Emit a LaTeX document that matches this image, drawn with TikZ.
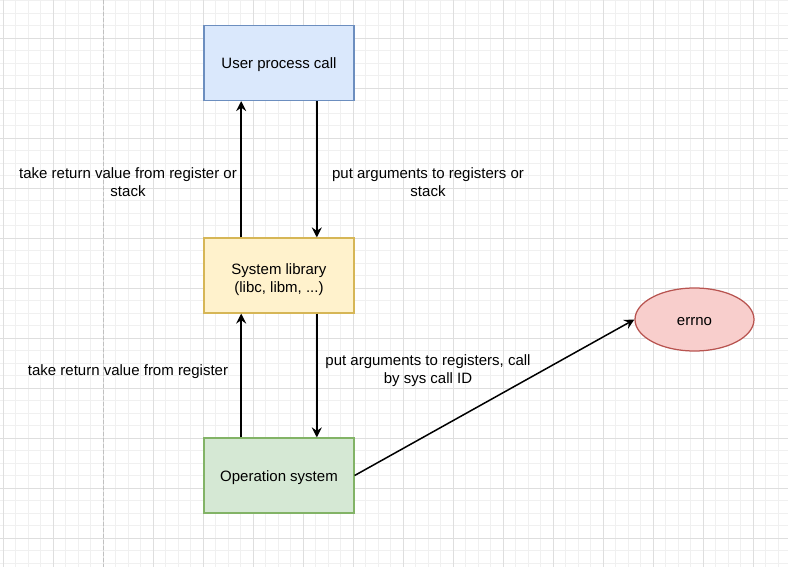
\documentclass[tikz,border=0pt]{standalone}
\usepackage{fontspec}
\setmainfont{Liberation Sans}
\usetikzlibrary{arrows.meta,shapes.geometric,calc}
\definecolor{gridminor}{HTML}{F0F0F0}
\definecolor{gridmajor}{HTML}{DEDEDE}
\definecolor{dashcol}{HTML}{C0C0C0}
\definecolor{bluefill}{HTML}{DAE8FC}\definecolor{bluedraw}{HTML}{6C8EBF}
\definecolor{yellowfill}{HTML}{FFF2CC}\definecolor{yellowdraw}{HTML}{D6B656}
\definecolor{greenfill}{HTML}{D5E8D4}\definecolor{greendraw}{HTML}{82B366}
\definecolor{redfill}{HTML}{F8CECC}\definecolor{reddraw}{HTML}{B85450}
\tikzset{
  txt/.style={font=\fontsize{15}{18}\selectfont},
  oneline/.style={text height=13pt, text depth=2pt},
  boxnode/.style={txt, rectangle, minimum width=150pt, minimum height=75pt, line width=1.25pt, inner sep=0pt},
  lbl/.style={txt, align=center, inner sep=0pt},
  arr/.style={line width=1.5pt, -{Stealth[length=10pt, width=10pt, inset=3.5pt]}},
}
\begin{document}
\begin{tikzpicture}[x=1pt, y=-1pt]
\useasboundingbox (0,0) rectangle (788,567);
\fill[white] (0,0) rectangle (788,567);
% grid
\foreach \i in {0,...,63} {
  \pgfmathsetmacro\xx{3.3+12.5*\i}
  \draw[gridminor, line width=1pt] (\xx,0) -- (\xx,567);
}
\foreach \i in {0,...,45} {
  \pgfmathsetmacro\yy{0.8+12.5*\i}
  \draw[gridminor, line width=1pt] (0,\yy) -- (788,\yy);
}
\foreach \i in {0,...,15} {
  \pgfmathsetmacro\xx{3.3+50*\i}
  \draw[gridmajor, line width=1pt] (\xx,0) -- (\xx,567);
}
\foreach \i in {0,...,10} {
  \pgfmathsetmacro\yy{38.3+50*\i}
  \draw[gridmajor, line width=1pt] (0,\yy) -- (788,\yy);
}
\draw[dashcol, line width=1.5pt, dash pattern=on 4pt off 2pt] (103.3,0) -- (103.3,567);

% nodes
\node[boxnode, oneline, fill=bluefill, draw=bluedraw] (user) at (279,63) {User process call};
\node[boxnode, fill=yellowfill, draw=yellowdraw, align=center] (syslib) at (279,275.5) {\rule{0pt}{19pt}System library\\(libc, libm, ...)};
\node[boxnode, oneline, fill=greenfill, draw=greendraw] (os) at (279,475.5) {Operation system};
\node[txt, oneline, ellipse, minimum width=119pt, minimum height=63pt, inner sep=0pt, fill=redfill, draw=reddraw, line width=1.25pt] (errno) at (694.5,319.5) {errno};

% connectors
\draw[arr] ($(syslib.north west)!0.25!(syslib.north east)$) -- ($(user.south west)!0.25!(user.south east)$);
\draw[arr] ($(user.south west)!0.75!(user.south east)$) -- ($(syslib.north west)!0.75!(syslib.north east)$);
\draw[arr] ($(os.north west)!0.25!(os.north east)$) -- ($(syslib.south west)!0.25!(syslib.south east)$);
\draw[arr] ($(syslib.south west)!0.75!(syslib.south east)$) -- ($(os.north west)!0.75!(os.north east)$);
\draw[arr] (os.east) -- (errno.west);

% labels
\node[lbl] (l1) at (128,182) {take return value from register or\\stack};
\node[lbl] (l2) at (428,182) {put arguments to registers or\\stack};
\node[lbl, oneline] (l3) at (128,370) {take return value from register};
\node[lbl] (l4) at (428,371) {put arguments to registers, call\\by sys call ID};
\end{tikzpicture}
\end{document}
